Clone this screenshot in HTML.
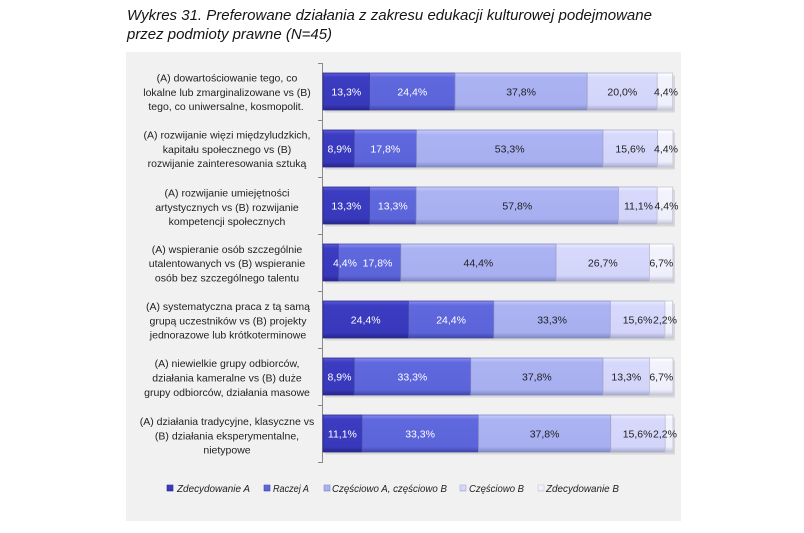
<!DOCTYPE html>
<html>
<head>
<meta charset="utf-8">
<style>
  html,body{margin:0;padding:0;background:#ffffff;}
  body{width:804px;height:533px;overflow:hidden;}
  svg{display:block;}
  .lbl{font-family:"Liberation Sans","DejaVu Sans",sans-serif;font-size:10.5px;fill:#1e1e1e;text-anchor:middle;}
  .pw{font-family:"Liberation Sans","DejaVu Sans",sans-serif;font-size:10.5px;fill:#ffffff;text-anchor:middle;}
  .pd{font-family:"Liberation Sans","DejaVu Sans",sans-serif;font-size:10.5px;fill:#1e1e1e;text-anchor:middle;}
  .ttl{font-family:"Liberation Sans","DejaVu Sans",sans-serif;font-size:15px;font-style:italic;fill:#151515;}
  .leg{font-family:"Liberation Sans","DejaVu Sans",sans-serif;font-size:10.5px;font-style:italic;fill:#1e1e1e;}
</style>
</head>
<body>
<svg width="804" height="533" viewBox="0 0 804 533" xmlns="http://www.w3.org/2000/svg">
  <defs>
    <linearGradient id="g1" x1="0" y1="0" x2="0" y2="1">
      <stop offset="0" stop-color="#5a5ad8"/><stop offset="0.12" stop-color="#3c3cc2"/><stop offset="0.86" stop-color="#3838bb"/><stop offset="1" stop-color="#25258a"/>
    </linearGradient>
    <linearGradient id="g2" x1="0" y1="0" x2="0" y2="1">
      <stop offset="0" stop-color="#8a90ee"/><stop offset="0.12" stop-color="#6068de"/><stop offset="0.86" stop-color="#5c64da"/><stop offset="1" stop-color="#4247a8"/>
    </linearGradient>
    <linearGradient id="g3" x1="0" y1="0" x2="0" y2="1">
      <stop offset="0" stop-color="#c8cdfa"/><stop offset="0.12" stop-color="#abb3f3"/><stop offset="0.86" stop-color="#a7aff0"/><stop offset="1" stop-color="#8088c4"/>
    </linearGradient>
    <linearGradient id="g4" x1="0" y1="0" x2="0" y2="1">
      <stop offset="0" stop-color="#eceefe"/><stop offset="0.12" stop-color="#d6d9fb"/><stop offset="0.86" stop-color="#d2d5f9"/><stop offset="1" stop-color="#a6a9cc"/>
    </linearGradient>
    <linearGradient id="g5" x1="0" y1="0" x2="0" y2="1">
      <stop offset="0" stop-color="#ffffff"/><stop offset="0.12" stop-color="#f2f3fd"/><stop offset="0.86" stop-color="#eeeffb"/><stop offset="1" stop-color="#c2c4d8"/>
    </linearGradient>
  </defs>

  <!-- Title -->
  <text class="ttl" x="127" y="20" textLength="525" lengthAdjust="spacingAndGlyphs">Wykres 31. Preferowane działania z zakresu edukacji kulturowej podejmowane</text>
  <text class="ttl" x="127" y="39" textLength="205" lengthAdjust="spacingAndGlyphs">przez podmioty prawne (N=45)</text>

  <!-- Chart area -->
  <rect x="126" y="52" width="555" height="469" fill="#f1f1f1"/>

  <!-- Axis -->
  <g stroke="#8a8a8a" stroke-width="1">
    <line x1="322.5" y1="63" x2="322.5" y2="463"/>
    <line x1="318" y1="63.5" x2="322.5" y2="63.5"/>
    <line x1="318" y1="120.5" x2="322.5" y2="120.5"/>
    <line x1="318" y1="177.5" x2="322.5" y2="177.5"/>
    <line x1="318" y1="234.5" x2="322.5" y2="234.5"/>
    <line x1="318" y1="291.5" x2="322.5" y2="291.5"/>
    <line x1="318" y1="348.5" x2="322.5" y2="348.5"/>
    <line x1="318" y1="405.5" x2="322.5" y2="405.5"/>
    <line x1="318" y1="462.5" x2="322.5" y2="462.5"/>
  </g>

  <!-- Bar shadows -->
  <g fill="#000" fill-opacity="0.10">
    <rect x="325" y="75.5" width="350" height="37"/>
    <rect x="325" y="132.5" width="350" height="37"/>
    <rect x="325" y="189.5" width="350" height="37"/>
    <rect x="325" y="246.5" width="350" height="37"/>
    <rect x="325" y="303.5" width="350" height="37"/>
    <rect x="325" y="360.5" width="350" height="37"/>
    <rect x="325" y="417.5" width="350" height="37"/>
  </g>

  <!-- Bars -->
  <g stroke-width="0.8">
    <!-- Bar 1 y=73 -->
    <rect x="323" y="73" width="46.55" height="37" fill="url(#g1)" stroke="#2a2a8a"/>
    <rect x="369.55" y="73" width="85.4" height="37" fill="url(#g2)" stroke="#4247a8"/>
    <rect x="454.95" y="73" width="132.3" height="37" fill="url(#g3)" stroke="#8088c4"/>
    <rect x="587.25" y="73" width="70" height="37" fill="url(#g4)" stroke="#a6a9cc"/>
    <rect x="657.25" y="73" width="15.4" height="37" fill="url(#g5)" stroke="#c2c4d8"/>
    <!-- Bar 2 y=130 -->
    <rect x="323" y="130" width="31.15" height="37" fill="url(#g1)" stroke="#2a2a8a"/>
    <rect x="354.15" y="130" width="62.3" height="37" fill="url(#g2)" stroke="#4247a8"/>
    <rect x="416.45" y="130" width="186.55" height="37" fill="url(#g3)" stroke="#8088c4"/>
    <rect x="603" y="130" width="54.6" height="37" fill="url(#g4)" stroke="#a6a9cc"/>
    <rect x="657.6" y="130" width="15.4" height="37" fill="url(#g5)" stroke="#c2c4d8"/>
    <!-- Bar 3 y=187 -->
    <rect x="323" y="187" width="46.55" height="37" fill="url(#g1)" stroke="#2a2a8a"/>
    <rect x="369.55" y="187" width="46.55" height="37" fill="url(#g2)" stroke="#4247a8"/>
    <rect x="416.1" y="187" width="202.3" height="37" fill="url(#g3)" stroke="#8088c4"/>
    <rect x="618.4" y="187" width="38.85" height="37" fill="url(#g4)" stroke="#a6a9cc"/>
    <rect x="657.25" y="187" width="15.4" height="37" fill="url(#g5)" stroke="#c2c4d8"/>
    <!-- Bar 4 y=244 -->
    <rect x="323" y="244" width="15.4" height="37" fill="url(#g1)" stroke="#2a2a8a"/>
    <rect x="338.4" y="244" width="62.3" height="37" fill="url(#g2)" stroke="#4247a8"/>
    <rect x="400.7" y="244" width="155.4" height="37" fill="url(#g3)" stroke="#8088c4"/>
    <rect x="556.1" y="244" width="93.45" height="37" fill="url(#g4)" stroke="#a6a9cc"/>
    <rect x="649.55" y="244" width="23.45" height="37" fill="url(#g5)" stroke="#c2c4d8"/>
    <!-- Bar 5 y=301 -->
    <rect x="323" y="301" width="85.4" height="37" fill="url(#g1)" stroke="#2a2a8a"/>
    <rect x="408.4" y="301" width="85.4" height="37" fill="url(#g2)" stroke="#4247a8"/>
    <rect x="493.8" y="301" width="116.55" height="37" fill="url(#g3)" stroke="#8088c4"/>
    <rect x="610.35" y="301" width="54.6" height="37" fill="url(#g4)" stroke="#a6a9cc"/>
    <rect x="664.95" y="301" width="7.7" height="37" fill="url(#g5)" stroke="#c2c4d8"/>
    <!-- Bar 6 y=358 -->
    <rect x="323" y="358" width="31.15" height="37" fill="url(#g1)" stroke="#2a2a8a"/>
    <rect x="354.15" y="358" width="116.55" height="37" fill="url(#g2)" stroke="#4247a8"/>
    <rect x="470.7" y="358" width="132.3" height="37" fill="url(#g3)" stroke="#8088c4"/>
    <rect x="603" y="358" width="46.55" height="37" fill="url(#g4)" stroke="#a6a9cc"/>
    <rect x="649.55" y="358" width="23.45" height="37" fill="url(#g5)" stroke="#c2c4d8"/>
    <!-- Bar 7 y=415 -->
    <rect x="323" y="415" width="38.85" height="37" fill="url(#g1)" stroke="#2a2a8a"/>
    <rect x="361.85" y="415" width="116.55" height="37" fill="url(#g2)" stroke="#4247a8"/>
    <rect x="478.4" y="415" width="132.3" height="37" fill="url(#g3)" stroke="#8088c4"/>
    <rect x="610.7" y="415" width="54.6" height="37" fill="url(#g4)" stroke="#a6a9cc"/>
    <rect x="665.3" y="415" width="7.7" height="37" fill="url(#g5)" stroke="#c2c4d8"/>
  </g>

  <!-- Percent labels -->
  <text class="pw" x="346.3" y="95.5">13,3%</text>
  <text class="pw" x="412.3" y="95.5">24,4%</text>
  <text class="pd" x="521.1" y="95.5">37,8%</text>
  <text class="pd" x="622.3" y="95.5">20,0%</text>
  <text class="pd" x="666" y="95.5">4,4%</text>

  <text class="pw" x="339.5" y="152.5">8,9%</text>
  <text class="pw" x="385.3" y="152.5">17,8%</text>
  <text class="pd" x="509.7" y="152.5">53,3%</text>
  <text class="pd" x="630.3" y="152.5">15,6%</text>
  <text class="pd" x="666" y="152.5">4,4%</text>

  <text class="pw" x="346.3" y="209.5">13,3%</text>
  <text class="pw" x="392.8" y="209.5">13,3%</text>
  <text class="pd" x="517.3" y="209.5">57,8%</text>
  <text class="pd" x="638.5" y="209.5">11,1%</text>
  <text class="pd" x="666.5" y="209.5">4,4%</text>

  <text class="pw" x="345" y="266.5">4,4%</text>
  <text class="pw" x="377.5" y="266.5">17,8%</text>
  <text class="pd" x="478.4" y="266.5">44,4%</text>
  <text class="pd" x="602.8" y="266.5">26,7%</text>
  <text class="pd" x="661.3" y="266.5">6,7%</text>

  <text class="pw" x="365.7" y="323.5">24,4%</text>
  <text class="pw" x="451.1" y="323.5">24,4%</text>
  <text class="pd" x="552.1" y="323.5">33,3%</text>
  <text class="pd" x="637.6" y="323.5">15,6%</text>
  <text class="pd" x="665" y="323.5">2,2%</text>

  <text class="pw" x="339.5" y="380.5">8,9%</text>
  <text class="pw" x="412.4" y="380.5">33,3%</text>
  <text class="pd" x="536.9" y="380.5">37,8%</text>
  <text class="pd" x="626.3" y="380.5">13,3%</text>
  <text class="pd" x="661.3" y="380.5">6,7%</text>

  <text class="pw" x="342.4" y="437.5">11,1%</text>
  <text class="pw" x="420.1" y="437.5">33,3%</text>
  <text class="pd" x="544.6" y="437.5">37,8%</text>
  <text class="pd" x="637.6" y="437.5">15,6%</text>
  <text class="pd" x="665" y="437.5">2,2%</text>

  <!-- Category labels -->
  <text class="lbl" x="227" y="81.5">(A) dowartościowanie tego, co</text>
  <text class="lbl" x="227" y="95.8">lokalne lub zmarginalizowane vs (B)</text>
  <text class="lbl" x="226" y="110.1">tego, co uniwersalne, kosmopolit.</text>

  <text class="lbl" x="227" y="138.6">(A) rozwijanie więzi międzyludzkich,</text>
  <text class="lbl" x="227" y="152.9">kapitału społecznego vs (B)</text>
  <text class="lbl" x="227" y="167.2">rozwijanie zainteresowania sztuką</text>

  <text class="lbl" x="227" y="196.5">(A) rozwijanie umiejętności</text>
  <text class="lbl" x="227" y="210.8">artystycznych vs (B) rozwijanie</text>
  <text class="lbl" x="227" y="225.1">kompetencji społecznych</text>

  <text class="lbl" x="227" y="252.9">(A) wspieranie osób szczególnie</text>
  <text class="lbl" x="227" y="267.2">utalentowanych vs (B) wspieranie</text>
  <text class="lbl" x="227" y="281.5">osób bez szczególnego talentu</text>

  <text class="lbl" x="228" y="310">(A) systematyczna praca z tą samą</text>
  <text class="lbl" x="228" y="324.3">grupą uczestników vs (B) projekty</text>
  <text class="lbl" x="228" y="338.6">jednorazowe lub krótkoterminowe</text>

  <text class="lbl" x="227" y="367.2">(A) niewielkie grupy odbiorców,</text>
  <text class="lbl" x="227" y="381.5">działania kameralne vs (B) duże</text>
  <text class="lbl" x="227" y="395.8">grupy odbiorców, działania masowe</text>

  <text class="lbl" x="227" y="425">(A) działania tradycyjne, klasyczne vs</text>
  <text class="lbl" x="227" y="439.3">(B) działania eksperymentalne,</text>
  <text class="lbl" x="227" y="453.6">nietypowe</text>

  <!-- Legend -->
  <g stroke-width="0.6">
    <rect x="167" y="485" width="6" height="6" fill="url(#g1)" stroke="#2a2a8a"/>
    <rect x="264" y="485" width="6" height="6" fill="url(#g2)" stroke="#4247a8"/>
    <rect x="324" y="485" width="6" height="6" fill="url(#g3)" stroke="#8088c4"/>
    <rect x="460" y="485" width="6" height="6" fill="url(#g4)" stroke="#a6a9cc"/>
    <rect x="538" y="485" width="6" height="6" fill="url(#g5)" stroke="#c2c4d8"/>
  </g>
  <text class="leg" x="177" y="492" textLength="73" lengthAdjust="spacingAndGlyphs">Zdecydowanie A</text>
  <text class="leg" x="273" y="492" textLength="36" lengthAdjust="spacingAndGlyphs">Raczej A</text>
  <text class="leg" x="332" y="492" textLength="115" lengthAdjust="spacingAndGlyphs">Częściowo A, częściowo B</text>
  <text class="leg" x="469" y="492" textLength="55" lengthAdjust="spacingAndGlyphs">Częściowo B</text>
  <text class="leg" x="546" y="492" textLength="73" lengthAdjust="spacingAndGlyphs">Zdecydowanie B</text>
</svg>
</body>
</html>
